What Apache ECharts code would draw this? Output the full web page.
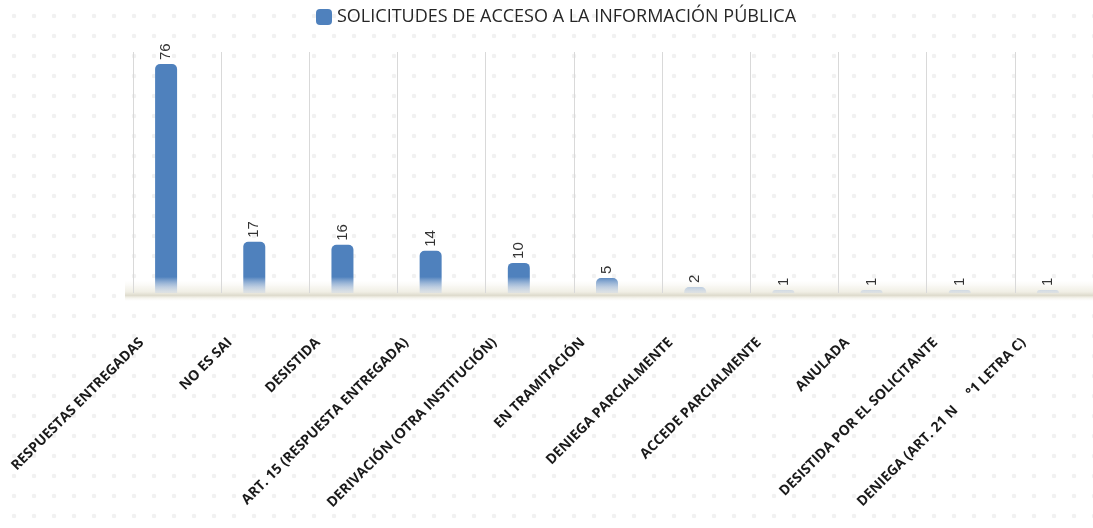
<!DOCTYPE html>
<html>
<head>
<meta charset="utf-8">
<script src="https://cdn.jsdelivr.net/npm/echarts@6/dist/echarts.min.js"></script>
<style>
  html, body { margin: 0; padding: 0; background: #fff; overflow: hidden; }
  #main {
    width: 1110px; height: 528px;
    background-image: radial-gradient(circle, #f1f1f1 2px, rgba(255,255,255,0) 2.6px);
    background-size: 20px 20px;
    background-position: 4px 6px;
  }
</style>
</head>
<body>
<div id="main"></div>
<script>
// datos del gráfico
const seriesName = "SOLICITUDES DE ACCESO A LA INFORMACIÓN PÚBLICA";
const categories = [
  "RESPUESTAS ENTREGADAS",
  "NO ES SAI",
  "DESISTIDA",
  "ART. 15 (RESPUESTA ENTREGADA)",
  "DERIVACIÓN (OTRA INSTITUCIÓN)",
  "EN TRAMITACIÓN",
  "DENIEGA PARCIALMENTE",
  "ACCEDE PARCIALMENTE",
  "ANULADA",
  "DESISTIDA POR EL SOLICITANTE",
  "DENIEGA (ART. 21 N     °1 LETRA C)"
];
const values = [76, 17, 16, 14, 10, 5, 2, 1, 1, 1, 1];
// serie vacía: en el original las barras quedan corridas a la izquierda del centro
const spacer = ["-", "-", "-", "-", "-", "-", "-", "-", "-", "-", "-"];

const blue = "#4f81bd";
const chart = echarts.init(document.getElementById("main"));

chart.setOption({
  backgroundColor: "transparent",
  textStyle: { fontFamily: "Open Sans" },
  legend: {
    top: 3,
    left: 311,
    icon: "roundRect",
    itemWidth: 16,
    itemHeight: 16,
    textStyle: { fontFamily: "Open Sans", fontSize: 18, color: "#262626" },
    data: [seriesName]
  },
  graphic: [
    {
      type: "rect",
      z: -10,
      shape: { x: 125, y: 281, width: 985, height: 20 },
      style: {
        fill: new echarts.graphic.LinearGradient(0, 0, 0, 1, [
          { offset: 0, color: "rgba(244,242,234,0)" },
          { offset: 0.55, color: "#f0eee4" },
          { offset: 0.72, color: "#dedbcd" },
          { offset: 0.8, color: "#eeece2" },
          { offset: 1, color: "rgba(248,247,242,0)" }
        ])
      }
    }
  ],
  grid: { left: 133, width: 970, top: 52, bottom: 235, containLabel: false },
  xAxis: {
    type: "category",
    data: categories,
    axisLine: { show: false },
    axisTick: { show: false },
    splitLine: { show: true, lineStyle: { color: "#d9d9d9", width: 1 } },
    axisLabel: {
      rotate: 45,
      margin: 12,
      interval: 0,
      padding: [0, 50, 0, 0],
      fontFamily: "Open Sans",
      fontWeight: "bold",
      fontSize: 14,
      color: "#1a1a1a"
    }
  },
  yAxis: {
    type: "value",
    min: 0,
    max: 80,
    show: false,
    splitLine: { show: false }
  },
  series: [
    {
      name: seriesName,
      type: "bar",
      data: values,
      barWidth: 22,
      barGap: "0%",
      itemStyle: {
        borderRadius: [5, 5, 0, 0],
        color: new echarts.graphic.LinearGradient(0, 0, 0, 293, [
          { offset: 0, color: blue },
          { offset: 0.945, color: blue },
          { offset: 1, color: "rgba(205,215,230,0.45)" }
        ], true)
      },
      label: {
        show: true,
        position: "top",
        rotate: 90,
        align: "left",
        verticalAlign: "middle",
        distance: 4,
        fontFamily: "Liberation Sans",
        fontSize: 15,
        color: "#333"
      }
    },
    {
      name: "",
      type: "bar",
      data: spacer,
      barWidth: 22,
      silent: true
    }
  ]
});
</script>
</body>
</html>
